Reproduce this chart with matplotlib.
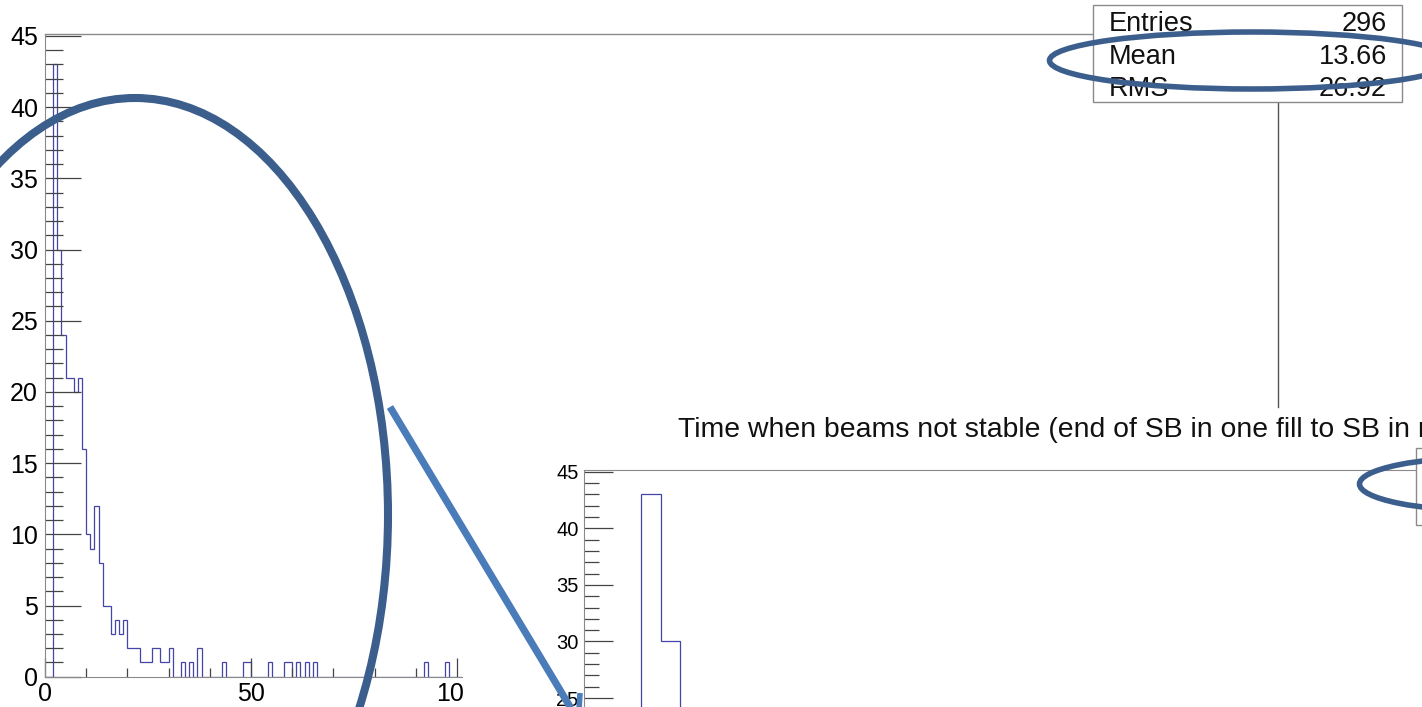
import matplotlib
matplotlib.use("Agg")
import matplotlib.pyplot as plt
import numpy as np
from matplotlib.patches import Ellipse, Rectangle
from matplotlib.ticker import MultipleLocator

plt.rcParams['font.family'] = ['Liberation Sans', 'DejaVu Sans']

# histogram: 1-unit bins starting at 0
counts = [0, 0, 43, 30, 24, 21, 21, 20, 21, 16,
          10, 9, 12, 8, 5, 5, 3, 4, 3, 4,
          2, 2, 2, 1, 1, 1, 2, 2, 1, 1,
          2, 0, 0, 1, 0, 1, 0, 2, 0, 0,
          0, 0, 0, 1, 0, 0, 0, 0, 1, 1,
          0, 0, 0, 0, 1, 0, 0, 0, 1, 1,
          0, 1, 0, 1, 0, 1, 0, 0, 0, 0,
          0, 0, 0, 0, 0, 0, 0, 0, 0, 0,
          0, 0, 0, 0, 0, 0, 0, 0, 0, 0,
          0, 0, 1, 0, 0, 0, 0, 1, 0, 0,
          0, 0]
edges = np.arange(len(counts) + 1)

stat_names = ["Entries", "Mean", "RMS"]
stat_values = ["296", "13.66", "26.92"]
title = "Time when beams not stable (end of SB in one fill to SB in next fill)"

W, H = 1422, 707
fig = plt.figure(figsize=(W / 100, H / 100), dpi=100)


def fig_rect(x0, y0, x1, y1):
    # pixel box (top-left origin) -> figure fraction
    return [x0 / W, 1 - y1 / H, (x1 - x0) / W, (y1 - y0) / H]


hist_col = '#4545a8'
spine_col = '#8a8a8a'
tick_col = '#444444'

# main histogram
ax = fig.add_axes(fig_rect(45, 33.8, 462, 676.7))
ax.stairs(counts, edges, color=hist_col, lw=0.9)
ax.set_xlim(0, 101.2)
ax.set_ylim(0, 45.15)
ax.yaxis.set_major_locator(MultipleLocator(5))
ax.yaxis.set_minor_locator(MultipleLocator(1))
ax.xaxis.set_major_locator(MultipleLocator(50))
ax.xaxis.set_minor_locator(MultipleLocator(10))
ax.tick_params(axis='y', which='major', direction='in', length=26, width=0.9,
               color=tick_col, labelsize=18, pad=5)
ax.tick_params(axis='y', which='minor', direction='in', length=13, width=0.9, color=tick_col)
ax.tick_params(axis='x', which='major', direction='in', length=13.5, width=0.9,
               color=tick_col, labelsize=18, pad=4)
ax.tick_params(axis='x', which='minor', direction='in', length=6.5, width=0.9, color=tick_col)
for s in ['top', 'right']:
    ax.spines[s].set_visible(False)
for s in ['left', 'bottom']:
    ax.spines[s].set_color(spine_col)
ax.set_zorder(0)

# white strip hiding the cut-off "100" label
fig.add_artist(Rectangle((462.5 / W, 0), (560 - 462.5) / W, 28 / H,
                         transform=fig.transFigure, facecolor='white',
                         edgecolor='none', zorder=1))

# zoomed copy (inset)
ins = fig.add_axes(fig_rect(584, 470, 1416, 981))
ins.stairs(counts, edges, color=hist_col, lw=0.9)
ins.set_xlim(-0.92, 41.7)
ins.set_ylim(0, 45.15)
ins.yaxis.set_major_locator(MultipleLocator(5))
ins.yaxis.set_minor_locator(MultipleLocator(1))
ins.tick_params(axis='y', which='major', direction='in', length=21, width=0.9,
                color=tick_col, labelsize=14.5, pad=4)
ins.tick_params(axis='y', which='minor', direction='in', length=10.5, width=0.9, color=tick_col)
ins.tick_params(axis='x', bottom=False, labelbottom=False)
for s in ['right', 'bottom']:
    ins.spines[s].set_visible(False)
for s in ['left', 'top']:
    ins.spines[s].set_color(spine_col)
ins.set_zorder(2)

# overlay for frames, stats boxes and annotations (pixel coordinates)
ov = fig.add_axes([0, 0, 1, 1])
ov.set_xlim(0, W)
ov.set_ylim(H, 0)
ov.axis('off')
ov.patch.set_alpha(0)
ov.set_zorder(5)

ov.plot([45, 1093], [33.5, 33.5], color=spine_col, lw=1, zorder=1)
ov.plot([1278, 1278], [102, 407], color='#555555', lw=1, zorder=1)
ov.add_patch(Rectangle((1093, 5), 309, 97, facecolor='white', edgecolor=spine_col, lw=1, zorder=1))
ov.add_patch(Rectangle((1416, 448), 40, 77, facecolor='white', edgecolor=spine_col, lw=1, zorder=1))

for i, (name, val) in enumerate(zip(stat_names, stat_values)):
    yb = 31 + i * 32.5
    ov.text(1109, yb, name, fontsize=19.5, ha='left', va='baseline', color='#111111', zorder=2)
    ov.text(1387, yb, val, fontsize=19.5, ha='right', va='baseline', color='#111111', zorder=2)

ov.text(678, 437, title, fontsize=20.4, ha='left', va='baseline', color='#111111',
        zorder=2, clip_on=False)

ell_col = '#3b5e8c'
ov.add_patch(Ellipse((135, 515), 506, 834, fill=False, edgecolor=ell_col, lw=5.8, zorder=4))
ov.add_patch(Ellipse((1252, 60.5), 405, 57, fill=False, edgecolor=ell_col, lw=4.0, zorder=4))
ov.add_patch(Ellipse((1491, 484), 263, 54, fill=False, edgecolor=ell_col, lw=4.0, zorder=4))

line_col = '#4a7cba'
ov.plot([390, 572], [407, 710], color=line_col, lw=5.2, solid_capstyle='butt', zorder=4)
ov.plot([580, 579], [693, 710], color=line_col, lw=4.0, solid_capstyle='butt', zorder=4)

fig.savefig("out.png", dpi=100)
